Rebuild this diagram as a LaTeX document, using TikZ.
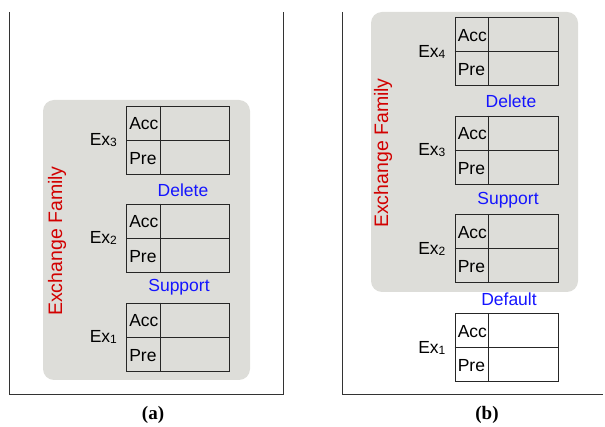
\documentclass[tikz,border=0pt]{standalone}
\usepackage{fontspec}
\setmainfont{Liberation Sans}
\newfontfamily\capfont{Liberation Serif}
\definecolor{famgray}{RGB}{221,221,217}
\definecolor{famred}{RGB}{210,0,0}
\definecolor{opblue}{RGB}{20,20,255}
\tikzset{
  frameline/.style={draw=black!80, line width=0.8pt},
  famarea/.style={fill=famgray, draw=none, rounded corners=11pt},
  tbl/.style={draw=black!85, line width=0.8pt, minimum width=103pt, minimum height=68pt, inner sep=0pt},
  cell/.style={font=\fontsize{17.5}{17.5}\selectfont, inner sep=0pt, anchor=west},
  exlbl/.style={font=\fontsize{17.5}{17.5}\selectfont, inner sep=0pt, anchor=east},
  oplbl/.style={font=\fontsize{17.5}{17.5}\selectfont, text=opblue, inner sep=0pt},
  famlbl/.style={font=\fontsize{19.5}{19.5}\selectfont, text=famred, inner sep=0pt, rotate=90},
  caplbl/.style={font=\capfont\bfseries\fontsize{19}{19}\selectfont, inner sep=0pt}
}
\newcommand{\exname}[1]{Ex\raisebox{-1pt}{\fontsize{12}{12}\selectfont #1}}
\newcommand{\extable}[5]{% name, x, y, fill, index
  \node[tbl, fill=#4] (#1) at (#2,#3) {};
  \draw[line width=0.8pt, draw=black!85] (#1.west) -- (#1.east);
  \draw[line width=0.8pt, draw=black!85] ([xshift=34pt]#1.north west) -- ([xshift=34pt]#1.south west);
  \node[cell] (#1acc) at ([xshift=3pt,yshift=-18pt]#1.north west) {Acc};
  \node[cell] (#1pre) at ([xshift=3pt,yshift=16pt]#1.south west) {Pre};
  \node[exlbl] (#1lbl) at ([xshift=-9pt]#1.west) {\exname{#5}};
}
\begin{document}
\begin{tikzpicture}[x=1pt,y=-1pt]
\useasboundingbox (0,0) rectangle (605,427);
% ---------- panel (a)
\coordinate (aTL) at (9,12);
\coordinate (aBL) at (9,394);
\coordinate (aBR) at (283,394);
\coordinate (aTR) at (283,12);
\draw[frameline] (aTL) -- (aBL) -- (aBR) -- (aTR);
\fill[famarea] (43,100) rectangle (250,380);
\extable{aT3}{178}{140}{famgray}{3}
\extable{aT2}{178}{238}{famgray}{2}
\extable{aT1}{178}{337}{famgray}{1}
\node[oplbl] (aDel) at (183,190) {Delete};
\node[oplbl] (aSup) at (179,287) {Support};
\node[famlbl] (aFam) at (57,241) {Exchange Family};
\node[caplbl] (aCap) at (153,415) {(a)};
% ---------- panel (b)
\coordinate (bTL) at (342,12);
\coordinate (bBL) at (342,394);
\coordinate (bBR) at (603,394);
\draw[frameline] (bTL) -- (bBL) -- (bBR);
\fill[famarea] (371,12) rectangle (578,292);
\extable{bT4}{506.5}{51.5}{famgray}{4}
\extable{bT3}{506.5}{150}{famgray}{3}
\extable{bT2}{506.5}{248.5}{famgray}{2}
\extable{bT1}{506.5}{347.5}{white}{1}
\node[oplbl] (bDel) at (511,101) {Delete};
\node[oplbl] (bSup) at (508,200) {Support};
\node[oplbl] (bDef) at (509,299) {Default};
\node[famlbl] (bFam) at (383,153) {Exchange Family};
\node[caplbl] (bCap) at (487,415) {(b)};
\end{tikzpicture}
\end{document}
